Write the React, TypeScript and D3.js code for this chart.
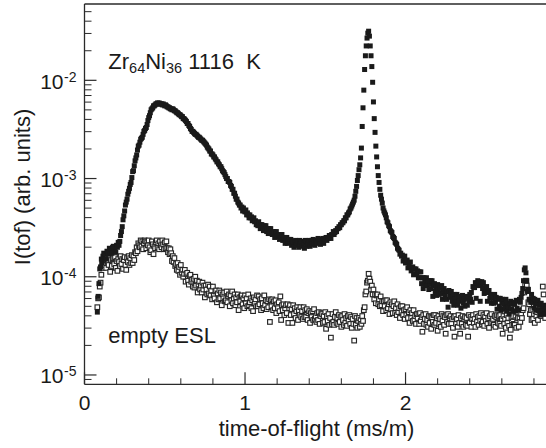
import React from "react";
import * as d3 from "d3";

// time-of-flight channels (µs/m)
const tofUs = [
  80,85,90,95,100,105,110,115,120,125,130,135,140,145,150,155,160,165,170,175,
  180,185,190,195,200,205,210,215,220,225,230,235,240,245,250,255,260,265,270,275,
  280,285,290,295,300,305,310,315,320,325,330,335,340,345,350,355,360,365,370,375,
  380,385,390,395,400,405,410,415,420,425,430,435,440,445,450,455,460,465,470,475,
  480,485,490,495,500,505,510,515,520,525,530,535,540,545,550,555,560,565,570,575,
  580,585,590,595,600,605,610,615,620,625,630,635,640,645,650,655,660,665,670,675,
  680,685,690,695,700,705,710,715,720,725,730,735,740,745,750,755,760,765,770,775,
  780,785,790,795,800,805,810,815,820,825,830,835,840,845,850,855,860,865,870,875,
  880,885,890,895,900,905,910,915,920,925,930,935,940,945,950,955,960,965,970,975,
  980,985,990,995,1000,1005,1010,1015,1020,1025,1030,1035,1040,1045,1050,1055,1060,1065,1070,1075,
  1080,1085,1090,1095,1100,1105,1110,1115,1120,1125,1130,1135,1140,1145,1150,1155,1160,1165,1170,1175,
  1180,1185,1190,1195,1200,1205,1210,1215,1220,1225,1230,1235,1240,1245,1250,1255,1260,1265,1270,1275,
  1280,1285,1290,1295,1300,1305,1310,1315,1320,1325,1330,1335,1340,1345,1350,1355,1360,1365,1370,1375,
  1380,1385,1390,1395,1400,1405,1410,1415,1420,1425,1430,1435,1440,1445,1450,1455,1460,1465,1470,1475,
  1480,1485,1490,1495,1500,1505,1510,1515,1520,1525,1530,1535,1540,1545,1550,1555,1560,1565,1570,1575,
  1580,1585,1590,1595,1600,1605,1610,1615,1620,1625,1630,1635,1640,1645,1650,1655,1660,1665,1670,1675,
  1680,1685,1690,1695,1700,1705,1710,1715,1720,1725,1730,1735,1740,1745,1750,1755,1760,1765,1770,1775,
  1780,1785,1790,1795,1800,1805,1810,1815,1820,1825,1830,1835,1840,1845,1850,1855,1860,1865,1870,1875,
  1880,1885,1890,1895,1900,1905,1910,1915,1920,1925,1930,1935,1940,1945,1950,1955,1960,1965,1970,1975,
  1980,1985,1990,1995,2000,2005,2010,2015,2020,2025,2030,2035,2040,2045,2050,2055,2060,2065,2070,2075,
  2080,2085,2090,2095,2100,2105,2110,2115,2120,2125,2130,2135,2140,2145,2150,2155,2160,2165,2170,2175,
  2180,2185,2190,2195,2200,2205,2210,2215,2220,2225,2230,2235,2240,2245,2250,2255,2260,2265,2270,2275,
  2280,2285,2290,2295,2300,2305,2310,2315,2320,2325,2330,2335,2340,2345,2350,2355,2360,2365,2370,2375,
  2380,2385,2390,2395,2400,2405,2410,2415,2420,2425,2430,2435,2440,2445,2450,2455,2460,2465,2470,2475,
  2480,2485,2490,2495,2500,2505,2510,2515,2520,2525,2530,2535,2540,2545,2550,2555,2560,2565,2570,2575,
  2580,2585,2590,2595,2600,2605,2610,2615,2620,2625,2630,2635,2640,2645,2650,2655,2660,2665,2670,2675,
  2680,2685,2690,2695,2700,2705,2710,2715,2720,2725,2730,2735,2740,2745,2750,2755,2760,2765,2770,2775,
  2780,2785,2790,2795,2800,2805,2810,2815,2820,2825,2830,2835,2840,2845,2850,2855,2860,2865,2870,2875,
];

// log10 I(tof), Zr64Ni36 at 1116 K (filled squares)
const sampleLog10I = [
  -4.36,-4.20,-4.07,-3.92,-3.90,-3.82,-3.86,-3.79,-3.76,-3.82,-3.77,-3.82,-3.74,-3.76,-3.77,-3.71,-3.75,-3.72,-3.76,-3.70,
  -3.69,-3.74,-3.70,-3.75,-3.68,-3.70,-3.65,-3.68,-3.64,-3.58,-3.54,-3.49,-3.42,-3.38,-3.33,-3.27,-3.24,-3.21,-3.16,-3.13,
  -3.10,-3.06,-3.04,-2.99,-2.93,-2.92,-2.87,-2.82,-2.79,-2.76,-2.71,-2.67,-2.66,-2.63,-2.60,-2.59,-2.58,-2.55,-2.52,-2.51,
  -2.49,-2.48,-2.45,-2.41,-2.38,-2.36,-2.33,-2.30,-2.29,-2.28,-2.26,-2.26,-2.25,-2.24,-2.24,-2.23,-2.24,-2.23,-2.24,-2.24,
  -2.24,-2.25,-2.24,-2.25,-2.26,-2.25,-2.26,-2.27,-2.27,-2.28,-2.28,-2.29,-2.29,-2.30,-2.29,-2.30,-2.31,-2.31,-2.32,-2.33,
  -2.33,-2.34,-2.35,-2.35,-2.36,-2.37,-2.37,-2.39,-2.39,-2.40,-2.41,-2.42,-2.44,-2.44,-2.46,-2.47,-2.49,-2.50,-2.52,-2.52,
  -2.53,-2.54,-2.55,-2.55,-2.56,-2.57,-2.58,-2.58,-2.59,-2.60,-2.61,-2.61,-2.62,-2.63,-2.64,-2.65,-2.66,-2.68,-2.69,-2.70,
  -2.72,-2.72,-2.75,-2.75,-2.76,-2.78,-2.78,-2.80,-2.81,-2.83,-2.83,-2.85,-2.86,-2.88,-2.88,-2.90,-2.92,-2.93,-2.94,-2.96,
  -2.98,-3.00,-3.00,-3.03,-3.03,-3.04,-3.07,-3.08,-3.11,-3.11,-3.15,-3.15,-3.18,-3.21,-3.21,-3.24,-3.25,-3.27,-3.27,-3.30,
  -3.29,-3.33,-3.30,-3.33,-3.34,-3.32,-3.37,-3.35,-3.37,-3.40,-3.37,-3.40,-3.39,-3.43,-3.42,-3.40,-3.44,-3.43,-3.47,-3.45,
  -3.48,-3.44,-3.47,-3.51,-3.47,-3.47,-3.50,-3.53,-3.48,-3.51,-3.48,-3.54,-3.51,-3.56,-3.51,-3.55,-3.51,-3.55,-3.57,-3.55,
  -3.54,-3.60,-3.56,-3.54,-3.59,-3.58,-3.57,-3.62,-3.58,-3.61,-3.57,-3.63,-3.61,-3.60,-3.66,-3.62,-3.60,-3.66,-3.64,-3.62,
  -3.65,-3.62,-3.68,-3.64,-3.65,-3.70,-3.64,-3.63,-3.68,-3.66,-3.64,-3.70,-3.63,-3.67,-3.65,-3.69,-3.64,-3.66,-3.71,-3.63,
  -3.64,-3.69,-3.65,-3.67,-3.63,-3.69,-3.65,-3.63,-3.67,-3.62,-3.66,-3.68,-3.63,-3.65,-3.66,-3.61,-3.65,-3.63,-3.67,-3.62,
  -3.64,-3.61,-3.66,-3.61,-3.62,-3.60,-3.63,-3.60,-3.61,-3.58,-3.59,-3.61,-3.57,-3.57,-3.54,-3.57,-3.55,-3.53,-3.54,-3.51,
  -3.51,-3.49,-3.50,-3.47,-3.47,-3.45,-3.45,-3.43,-3.43,-3.40,-3.40,-3.37,-3.37,-3.35,-3.34,-3.31,-3.30,-3.28,-3.26,-3.24,
  -3.22,-3.18,-3.13,-3.08,-3.02,-2.97,-2.91,-2.86,-2.79,-2.69,-2.47,-2.28,-2.10,-1.89,-1.75,-1.65,-1.57,-1.52,-1.50,-1.55,
  -1.65,-1.75,-1.86,-2.02,-2.22,-2.39,-2.53,-2.67,-2.78,-2.88,-2.97,-3.04,-3.11,-3.17,-3.21,-3.25,-3.30,-3.33,-3.35,-3.37,
  -3.40,-3.44,-3.45,-3.48,-3.49,-3.53,-3.54,-3.55,-3.59,-3.60,-3.61,-3.65,-3.66,-3.67,-3.71,-3.72,-3.73,-3.77,-3.76,-3.79,
  -3.78,-3.84,-3.81,-3.79,-3.86,-3.85,-3.83,-3.91,-3.86,-3.90,-3.85,-3.94,-3.92,-3.90,-3.98,-3.92,-3.97,-3.92,-3.97,-3.94,
  -4.01,-3.95,-4.01,-3.95,-4.07,-4.01,-4.12,-4.01,-4.05,-4.09,-4.01,-4.08,-4.04,-4.13,-4.07,-4.04,-4.12,-4.04,-4.20,-4.09,
  -4.07,-4.15,-4.10,-4.19,-4.08,-4.14,-4.18,-4.11,-4.17,-4.09,-4.23,-4.15,-4.12,-4.20,-4.15,-4.23,-4.15,-4.31,-4.14,-4.20,
  -4.21,-4.15,-4.25,-4.19,-4.29,-4.18,-4.23,-4.26,-4.18,-4.29,-4.21,-4.25,-4.20,-4.32,-4.22,-4.19,-4.27,-4.23,-4.30,-4.20,
  -4.21,-4.29,-4.22,-4.25,-4.18,-4.23,-4.16,-4.26,-4.10,-4.11,-4.11,-4.06,-4.22,-4.06,-4.04,-4.09,-4.05,-4.25,-4.08,-4.05,
  -4.12,-4.06,-4.17,-4.11,-4.16,-4.10,-4.25,-4.16,-4.14,-4.22,-4.18,-4.27,-4.19,-4.22,-4.27,-4.18,-4.26,-4.21,-4.33,-4.23,
  -4.22,-4.30,-4.22,-4.34,-4.26,-4.23,-4.33,-4.28,-4.32,-4.23,-4.35,-4.27,-4.31,-4.38,-4.27,-4.25,-4.33,-4.28,-4.35,-4.26,
  -4.28,-4.35,-4.24,-4.32,-4.25,-4.34,-4.23,-4.26,-4.21,-4.17,-4.12,-4.04,-3.93,-3.91,-3.96,-4.04,-4.15,-4.13,-4.23,-4.23,
  -4.26,-4.18,-4.26,-4.22,-4.32,-4.23,-4.28,-4.34,-4.27,-4.24,-4.34,-4.29,-4.39,-4.27,-4.34,-4.30,-4.38,-4.29,-4.38,-4.33,
];

// log10 I(tof), empty ESL (open squares)
const emptyLog10I = [
  -4.31,-4.22,-4.21,-4.10,-4.06,-3.98,-3.86,-3.91,-3.80,-3.88,-3.83,-3.91,-3.81,-3.85,-3.88,-3.80,-3.95,-3.83,-3.89,-3.82,
  -3.81,-3.87,-3.80,-3.91,-3.84,-3.94,-3.82,-3.85,-3.89,-3.79,-3.87,-3.82,-3.92,-3.83,-3.80,-3.88,-3.93,-3.81,-3.85,-3.79,
  -3.88,-3.81,-3.86,-3.78,-3.86,-3.79,-3.83,-3.75,-3.76,-3.70,-3.74,-3.66,-3.68,-3.70,-3.63,-3.69,-3.64,-3.72,-3.66,-3.63,
  -3.64,-3.71,-3.65,-3.68,-3.63,-3.70,-3.75,-3.73,-3.64,-3.67,-3.77,-3.69,-3.71,-3.65,-3.63,-3.70,-3.66,-3.72,-3.64,-3.68,
  -3.70,-3.63,-3.67,-3.72,-3.65,-3.71,-3.64,-3.71,-3.75,-3.71,-3.77,-3.72,-3.76,-3.84,-3.79,-3.85,-3.81,-3.89,-3.87,-3.93,
  -3.86,-3.94,-3.90,-3.98,-3.88,-3.96,-3.93,-4.00,-3.97,-3.93,-4.05,-3.97,-3.96,-4.04,-4.08,-3.99,-3.98,-4.05,-4.03,-4.10,
  -4.02,-4.11,-4.00,-4.09,-4.04,-4.16,-4.08,-4.05,-4.13,-4.09,-4.16,-4.06,-4.13,-4.09,-4.21,-4.09,-4.13,-4.18,-4.08,-4.17,
  -4.10,-4.19,-4.14,-4.23,-4.10,-4.19,-4.22,-4.15,-4.14,-4.26,-4.17,-4.23,-4.14,-4.22,-4.16,-4.29,-4.18,-4.22,-4.16,-4.25,
  -4.24,-4.15,-4.26,-4.20,-4.18,-4.30,-4.19,-4.24,-4.15,-4.27,-4.22,-4.18,-4.29,-4.21,-4.26,-4.18,-4.34,-4.21,-4.25,-4.20,
  -4.19,-4.28,-4.22,-4.32,-4.19,-4.27,-4.22,-4.30,-4.18,-4.29,-4.26,-4.22,-4.32,-4.24,-4.35,-4.21,-4.27,-4.23,-4.30,-4.19,
  -4.30,-4.20,-4.28,-4.23,-4.34,-4.22,-4.27,-4.32,-4.19,-4.29,-4.24,-4.33,-4.25,-4.31,-4.23,-4.46,-4.24,-4.30,-4.23,-4.34,
  -4.25,-4.32,-4.24,-4.37,-4.28,-4.32,-4.26,-4.35,-4.20,-4.44,-4.29,-4.34,-4.28,-4.39,-4.32,-4.29,-4.37,-4.28,-4.47,-4.32,
  -4.29,-4.39,-4.33,-4.47,-4.29,-4.38,-4.32,-4.42,-4.35,-4.31,-4.44,-4.34,-4.39,-4.31,-4.41,-4.35,-4.43,-4.31,-4.41,-4.34,
  -4.41,-4.33,-4.44,-4.37,-4.35,-4.47,-4.37,-4.41,-4.35,-4.44,-4.33,-4.43,-4.40,-4.46,-4.37,-4.44,-4.36,-4.48,-4.40,-4.37,
  -4.38,-4.47,-4.40,-4.46,-4.36,-4.53,-4.40,-4.45,-4.38,-4.49,-4.42,-4.62,-4.48,-4.38,-4.46,-4.49,-4.41,-4.36,-4.47,-4.42,
  -4.48,-4.39,-4.46,-4.41,-4.51,-4.40,-4.44,-4.49,-4.38,-4.47,-4.42,-4.50,-4.40,-4.45,-4.39,-4.48,-4.41,-4.52,-4.43,-4.48,
  -4.65,-4.40,-4.49,-4.42,-4.52,-4.45,-4.42,-4.51,-4.44,-4.48,-4.40,-4.45,-4.34,-4.31,-4.18,-4.15,-4.06,-4.04,-3.97,-4.02,
  -4.05,-4.13,-4.09,-4.18,-4.13,-4.23,-4.18,-4.27,-4.19,-4.18,-4.28,-4.23,-4.30,-4.20,-4.29,-4.25,-4.35,-4.25,-4.30,-4.24,
  -4.34,-4.24,-4.32,-4.28,-4.38,-4.26,-4.33,-4.28,-4.37,-4.30,-4.25,-4.37,-4.32,-4.39,-4.28,-4.36,-4.32,-4.42,-4.30,-4.36,
  -4.30,-4.39,-4.34,-4.43,-4.33,-4.39,-4.31,-4.42,-4.36,-4.47,-4.34,-4.42,-4.37,-4.45,-4.34,-4.44,-4.40,-4.48,-4.38,-4.42,
  -4.38,-4.48,-4.37,-4.45,-4.41,-4.56,-4.39,-4.48,-4.43,-4.38,-4.49,-4.44,-4.51,-4.40,-4.47,-4.41,-4.53,-4.42,-4.46,-4.39,
  -4.49,-4.39,-4.47,-4.42,-4.55,-4.40,-4.48,-4.43,-4.51,-4.38,-4.45,-4.40,-4.49,-4.41,-4.58,-4.39,-4.46,-4.38,-4.48,-4.42,
  -4.40,-4.48,-4.43,-4.52,-4.41,-4.61,-4.40,-4.48,-4.43,-4.51,-4.39,-4.47,-4.58,-4.42,-4.48,-4.40,-4.51,-4.43,-4.41,-4.49,
  -4.42,-4.50,-4.61,-4.39,-4.47,-4.41,-4.51,-4.43,-4.39,-4.47,-4.43,-4.51,-4.38,-4.46,-4.41,-4.49,-4.40,-4.45,-4.37,-4.48,
  -4.46,-4.39,-4.50,-4.41,-4.45,-4.37,-4.48,-4.42,-4.52,-4.40,-4.47,-4.38,-4.46,-4.43,-4.49,-4.40,-4.51,-4.41,-4.39,-4.47,
  -4.40,-4.48,-4.39,-4.50,-4.43,-4.58,-4.40,-4.48,-4.43,-4.52,-4.39,-4.47,-4.42,-4.50,-4.62,-4.54,-4.41,-4.49,-4.40,-4.48,
  -4.49,-4.41,-4.52,-4.44,-4.42,-4.51,-4.42,-4.46,-4.38,-4.42,-4.34,-4.32,-4.16,-4.08,-4.04,-4.09,-4.13,-4.26,-4.28,-4.38,
  -4.34,-4.44,-4.34,-4.43,-4.38,-4.47,-4.35,-4.40,-4.36,-4.44,-4.34,-4.39,-4.32,-4.40,-4.34,-4.10,-4.18,-4.33,-4.42,-4.32,
];

const yDecades = [-5, -4, -3, -2];
const xMajorTicks = [0, 1, 2];
const xMinorTicks = [0.2, 0.4, 0.6, 0.8, 1.2, 1.4, 1.6, 1.8, 2.2, 2.4, 2.6, 2.8];
const xAxisTitle = "time-of-flight (ms/m)";
const yAxisTitle = "I(tof) (arb. units)";

const FONT = "'Liberation Sans', Arial, Helvetica, sans-serif";
const INK = "#1a1a1a";

export default function App() {
  const W = 546;
  const H = 448;
  const left = 84.5;
  const top = 4;
  const bottom = 384.3;

  const x = d3.scaleLinear().domain([0, 2.875]).range([left, 546]);
  const y = d3
    .scaleLog()
    .domain([Math.pow(10, -5.095), Math.pow(10, -1.223)])
    .range([bottom, top]);

  const sample = tofUs.map((t, i) => ({ t: t / 1000, v: Math.pow(10, sampleLog10I[i]) }));
  const empty = tofUs.map((t, i) => ({ t: t / 1000, v: Math.pow(10, emptyLog10I[i]) }));

  const [yLo, yHi] = y.domain();
  const yMinor: number[] = [];
  for (let e = -6; e <= -1; e++) {
    for (let k = 2; k <= 9; k++) {
      const v = k * Math.pow(10, e);
      if (v > yLo && v < yHi) yMinor.push(v);
    }
  }

  const fsTick = 21;
  const fsTitle = 22;
  const sq = 5.0;
  const oq = 4.6;

  return (
    <svg
      width={W}
      height={H}
      style={{ position: "absolute", left: 0, top: 0, background: "#fff" }}
      fontFamily={FONT}
    >
      <rect x={0} y={0} width={W} height={H} fill="#fff" />

      {/* open squares: empty ESL */}
      <g>
        {empty.map((d, i) => (
          <rect
            key={"e" + i}
            x={x(d.t) - oq / 2}
            y={y(d.v) - oq / 2}
            width={oq}
            height={oq}
            fill="#fff"
            stroke="#262626"
            strokeWidth={1.15}
          />
        ))}
      </g>
      {/* filled squares: sample */}
      <g>
        {sample.map((d, i) => (
          <rect
            key={"s" + i}
            x={x(d.t) - sq / 2}
            y={y(d.v) - sq / 2}
            width={sq}
            height={sq}
            fill={INK}
          />
        ))}
      </g>

      {/* frame */}
      <line x1={left} x2={left} y1={top} y2={bottom} stroke="#2a2a2a" strokeWidth={1.3} />
      <line x1={left} x2={W} y1={top} y2={top} stroke="#2a2a2a" strokeWidth={1.3} />
      <line x1={left} x2={W} y1={bottom} y2={bottom} stroke="#2a2a2a" strokeWidth={1.3} />

      {/* y ticks */}
      {yDecades.map((e) => {
        const yy = y(Math.pow(10, e));
        return (
          <g key={"yd" + e}>
            <line x1={left} x2={left + 12} y1={yy} y2={yy} stroke="#2a2a2a" strokeWidth={1.2} />
            <text x={63.5} y={yy + 8.5} fontSize={fsTick} textAnchor="end" fill={INK}>
              10
            </text>
            <text x={64} y={yy + 1.5} fontSize={14} fill={INK}>
              {"-" + String(-e)}
            </text>
          </g>
        );
      })}
      {yMinor.map((v, i) => (
        <line
          key={"ym" + i}
          x1={left}
          x2={left + 7}
          y1={y(v)}
          y2={y(v)}
          stroke="#2a2a2a"
          strokeWidth={1}
        />
      ))}

      {/* x ticks */}
      {xMajorTicks.map((t) => (
        <g key={"xt" + t}>
          <line x1={x(t)} x2={x(t)} y1={bottom} y2={bottom - 12} stroke="#2a2a2a" strokeWidth={1.2} />
          <text x={x(t)} y={410} fontSize={fsTick} textAnchor="middle" fill={INK}>
            {String(t)}
          </text>
        </g>
      ))}
      {xMinorTicks.map((t) => (
        <line
          key={"xm" + t}
          x1={x(t)}
          x2={x(t)}
          y1={bottom}
          y2={bottom - 6}
          stroke="#2a2a2a"
          strokeWidth={1}
        />
      ))}

      {/* axis titles */}
      <text x={316.5} y={436} fontSize={fsTitle} textAnchor="middle" fill={INK}>
        {xAxisTitle}
      </text>
      <text
        transform={`translate(30,187) rotate(-90)`}
        fontSize={fsTitle}
        textAnchor="middle"
        fill={INK}
      >
        {yAxisTitle}
      </text>

      {/* annotations */}
      <text x={108.3} y={69} fontSize={fsTitle} fill={INK}>
        Zr
        <tspan fontSize={14.5} dy={4}>64</tspan>
        <tspan dy={-4}>Ni</tspan>
        <tspan fontSize={14.5} dy={4}>36</tspan>
        <tspan dy={-4}>{"\u00a01116\u00a0\u00a0K"}</tspan>
      </text>
      <text x={108.3} y={343} fontSize={fsTitle} fill={INK}>
        empty ESL
      </text>
    </svg>
  );
}
